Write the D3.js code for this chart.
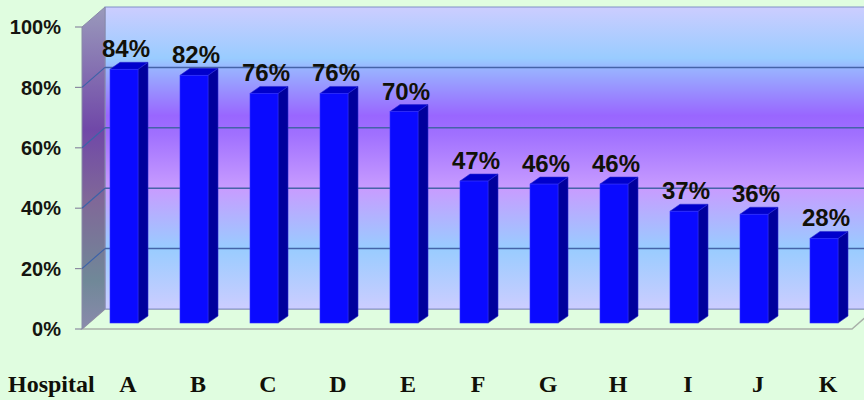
<!DOCTYPE html>
<html>
<head>
<meta charset="utf-8">
<script src="https://cdn.jsdelivr.net/npm/d3@7"></script>
<style>
  body { margin: 0; background: #e0fde0; }
  svg { display: block; }
</style>
</head>
<body>
<script>
const hospitals = ["A", "B", "C", "D", "E", "F", "G", "H", "I", "J", "K"];
const percents = [84, 82, 76, 76, 70, 47, 46, 46, 37, 36, 28];
const yTicks = [0, 20, 40, 60, 80, 100];
const axisTitle = "Hospital";

const width = 864, height = 400;

// depth offsets: back wall vs front plane, and bars sitting in between
const wall = { dx: 23, dy: -20 };
const bar = { dx: 10, dy: -7, lift: 6 };

const front = { left: 82, right: 852, bottom: 329, top: 27 };

const xScale = d3.scaleBand()
  .domain(hospitals)
  .range([89, 859])
  .paddingInner(0.6)
  .paddingOuter(0.3);

const yScale = d3.scaleLinear().domain([0, 100]).range([front.bottom, front.top]);

const svg = d3.select("body")
  .append("svg")
  .attr("width", width)
  .attr("height", height);

const defs = svg.append("defs");

const wallGrad = defs.append("linearGradient")
  .attr("id", "wallGrad")
  .attr("x1", 0).attr("y1", 0).attr("x2", 0).attr("y2", 1);
[[0, "#cccdff"], [0.17, "#99ccff"], [0.21, "#99b0ff"], [0.36, "#9966ff"],
 [0.42, "#a070ff"], [0.6, "#c89cff"], [0.8, "#99ccff"], [1, "#cccdff"]]
  .forEach(s => wallGrad.append("stop").attr("offset", s[0]).attr("stop-color", s[1]));

const sideGrad = defs.append("linearGradient")
  .attr("id", "sideGrad")
  .attr("x1", 0).attr("y1", 0).attr("x2", 0).attr("y2", 1);
[[0, "#9a9abb"], [0.38, "#7048a8"], [0.6, "#806898"], [0.85, "#708898"], [1, "#8a8aac"]]
  .forEach(s => sideGrad.append("stop").attr("offset", s[0]).attr("stop-color", s[1]));

const backLeft = front.left + wall.dx;
const backRight = front.right + wall.dx;
const pts = (arr) => arr.map(p => p.join(",")).join(" ");

// floor
svg.append("polygon")
  .attr("points", pts([[front.left, front.bottom], [backLeft, yScale(0) + wall.dy],
    [backRight, yScale(0) + wall.dy], [front.right, front.bottom]]))
  .attr("fill", "#e0fde0")
  .attr("stroke", "#a8b0a8")
  .attr("stroke-width", 1.5);

// back wall
svg.append("rect")
  .attr("x", backLeft)
  .attr("y", yScale(100) + wall.dy)
  .attr("width", backRight - backLeft)
  .attr("height", yScale(0) - yScale(100))
  .attr("fill", "url(#wallGrad)")
  .attr("stroke", "#8090c8")
  .attr("stroke-width", 1);

// left side wall
svg.append("polygon")
  .attr("points", pts([[front.left, yScale(100)], [backLeft, yScale(100) + wall.dy],
    [backLeft, yScale(0) + wall.dy], [front.left, yScale(0)]]))
  .attr("fill", "url(#sideGrad)")
  .attr("stroke", "#8a8aa8")
  .attr("stroke-width", 1);

// gridlines
const grid = svg.append("g").attr("class", "grid");
grid.selectAll(".back")
  .data(yTicks.filter(t => t > 0 && t < 100))
  .enter()
  .append("line")
  .attr("x1", backLeft)
  .attr("x2", backRight)
  .attr("y1", d => yScale(d) + wall.dy)
  .attr("y2", d => yScale(d) + wall.dy)
  .attr("stroke", "#4563a8")
  .attr("stroke-width", 1.5);
grid.selectAll(".side")
  .data(yTicks.filter(t => t > 0 && t < 100))
  .enter()
  .append("line")
  .attr("x1", front.left)
  .attr("x2", backLeft)
  .attr("y1", d => yScale(d))
  .attr("y2", d => yScale(d) + wall.dy)
  .attr("stroke", "#3c62a8")
  .attr("stroke-width", 1.2);

// y axis ticks and labels
const yAxis = svg.append("g").attr("class", "y axis");
yAxis.selectAll("line")
  .data(yTicks)
  .enter()
  .append("line")
  .attr("x1", front.left - 7)
  .attr("x2", front.left)
  .attr("y1", d => yScale(d))
  .attr("y2", d => yScale(d))
  .attr("stroke", "#8a8aa0")
  .attr("stroke-width", 1.2);
yAxis.selectAll("text")
  .data(yTicks)
  .enter()
  .append("text")
  .attr("x", 61)
  .attr("y", d => yScale(d))
  .attr("dy", "0.36em")
  .attr("text-anchor", "end")
  .style("font-family", "'Liberation Sans', Arial, sans-serif")
  .style("font-weight", "bold")
  .style("font-size", "20px")
  .attr("fill", "#151510")
  .text(d => d + "%");

// bars
const bars = svg.append("g").attr("class", "bars")
  .selectAll("g")
  .data(hospitals.map((h, i) => ({ name: h, value: percents[i] })))
  .enter()
  .append("g");

const x0 = d => xScale(d.name);
const x1 = d => xScale(d.name) + xScale.bandwidth();
const yTop = d => yScale(d.value) - bar.lift;
const yBot = () => yScale(0) - bar.lift;

bars.append("polygon")
  .attr("points", d => pts([[x1(d), yTop(d)], [x1(d) + bar.dx, yTop(d) + bar.dy],
    [x1(d) + bar.dx, yBot() + bar.dy], [x1(d), yBot()]]))
  .attr("fill", "#00009c")
  .attr("stroke", "#2a2ad0")
  .attr("stroke-width", 0.6);

bars.append("polygon")
  .attr("points", d => pts([[x0(d), yTop(d)], [x0(d) + bar.dx, yTop(d) + bar.dy],
    [x1(d) + bar.dx, yTop(d) + bar.dy], [x1(d), yTop(d)]]))
  .attr("fill", "#0000cc")
  .attr("stroke", "#2a2ad0")
  .attr("stroke-width", 0.6);

bars.append("rect")
  .attr("x", x0)
  .attr("y", yTop)
  .attr("width", xScale.bandwidth())
  .attr("height", d => yBot() - yTop(d))
  .attr("fill", "#0a0aff")
  .attr("stroke", "#3030ff")
  .attr("stroke-width", 0.6);

bars.append("text")
  .attr("x", d => x0(d) + xScale.bandwidth() / 2 + 2)
  .attr("y", d => yTop(d) + bar.dy - 5)
  .attr("text-anchor", "middle")
  .style("font-family", "'Liberation Sans', Arial, sans-serif")
  .style("font-weight", "bold")
  .style("font-size", "24px")
  .attr("fill", "#111108")
  .text(d => d.value + "%");

// category labels
const xAxis = svg.append("g").attr("class", "x axis")
  .style("font-family", "'Liberation Serif', 'Times New Roman', serif")
  .style("font-weight", "bold")
  .style("font-size", "24px")
  .attr("fill", "#101008");

xAxis.append("text")
  .attr("x", 8)
  .attr("y", 392)
  .text(axisTitle);

xAxis.selectAll(".cat")
  .data(hospitals)
  .enter()
  .append("text")
  .attr("class", "cat")
  .attr("x", d => xScale(d) + xScale.bandwidth() / 2 + 4)
  .attr("y", 392)
  .attr("text-anchor", "middle")
  .text(d => d);
</script>
</body>
</html>
